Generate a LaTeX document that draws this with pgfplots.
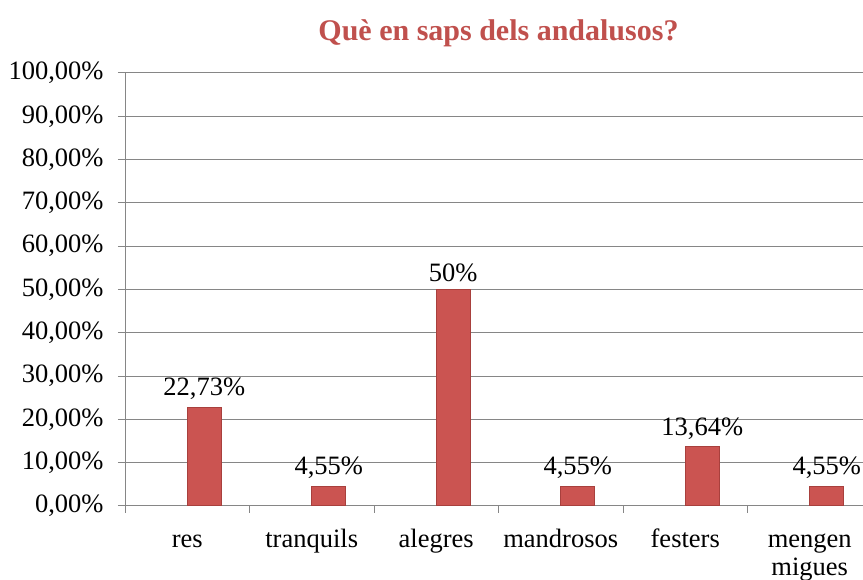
\documentclass[border=0pt]{standalone}
\usepackage{pgfplots}
\pgfplotsset{compat=1.18}
\usepackage{fontspec}
\setmainfont{Liberation Serif}
\definecolor{titlered}{HTML}{C0504D}
\definecolor{barred}{HTML}{CB5451}
\definecolor{baredge}{HTML}{A8403D}
\definecolor{axgray}{HTML}{868686}
\begin{document}
\begin{tikzpicture}[x=1pt,y=1pt]
\useasboundingbox (0,0) rectangle (863,579);
\begin{axis}[
  at={(125pt,73pt)}, anchor=south west,
  scale only axis, width=747pt, height=433pt,
  xmin=-0.5, xmax=5.5, ymin=0, ymax=100,
  axis x line*=bottom, axis y line*=left,
  axis line style={axgray, line width=1pt},
  ymajorgrids, grid style={axgray, line width=1pt},
  ytick={0,10,...,100},
  yticklabels={{0,00\%},{10,00\%},{20,00\%},{30,00\%},{40,00\%},{50,00\%},{60,00\%},{70,00\%},{80,00\%},{90,00\%},{100,00\%}},
  xtick={0,...,5},
  xticklabels={{\strut res},{\strut tranquils},{\strut alegres},{\strut mandrosos},{\strut festers},{\strut mengen\\\strut migues}},
  minor xtick={-0.5,0.5,...,5.5},
  tick align=outside,
  major tick length=7pt, minor tick length=7pt,
  x tick style={draw=none},
  minor x tick style={draw=axgray, line width=1pt},
  y tick style={axgray, line width=1pt},
  tick label style={font=\fontsize{26.5}{28}\selectfont},
  xticklabel style={align=center, yshift=-11pt},
  yticklabel style={xshift=-11pt},
  title={Què en saps dels andalusos?},
  title style={at={(0.5,1)}, anchor=base, yshift=26pt, font=\bfseries\fontsize{30}{30}\selectfont, text=titlered},
  ybar, bar width=34pt, bar shift=17pt,
  point meta=explicit symbolic,
  nodes near coords,
  every node near coord/.append style={font=\fontsize{26.5}{26.5}\selectfont, yshift=4pt, text=black},
]
\addplot[fill=barred, draw=baredge, line width=1pt] table[meta=lab] {
x y lab
0 22.73 {22,73\%}
1 4.55 {4,55\%}
2 50 {50\%}
3 4.55 {4,55\%}
4 13.64 {13,64\%}
5 4.55 {4,55\%}
};
\end{axis}
\end{tikzpicture}
\end{document}
